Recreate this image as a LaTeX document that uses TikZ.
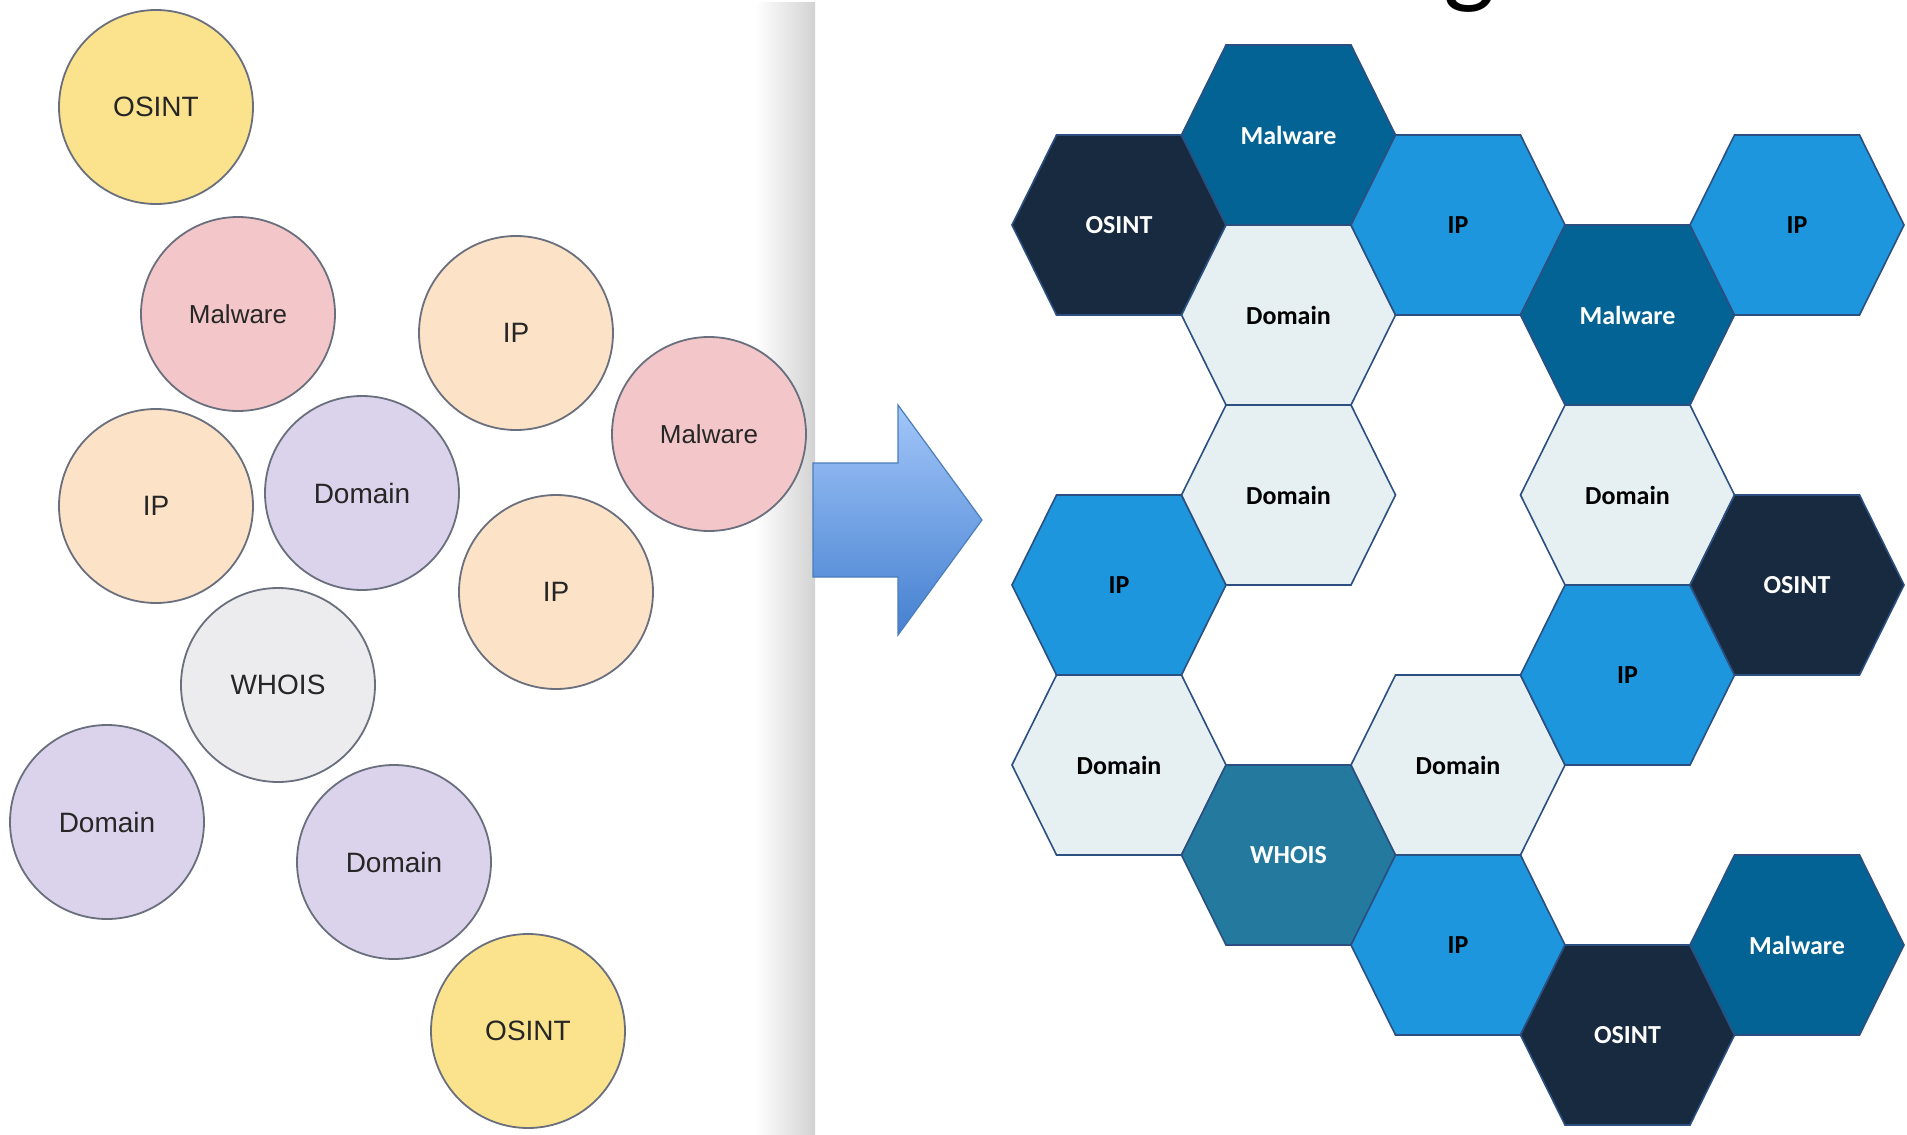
\documentclass[tikz,border=0pt]{standalone}
\usepackage{fontspec}
\setmainfont{Liberation Sans}
\newfontfamily\hexfont{Carlito}
\usetikzlibrary{calc}

% bubble palette
\definecolor{bubOsint}{HTML}{FBE38E}
\definecolor{bubMalware}{HTML}{F3C7C9}
\definecolor{bubIp}{HTML}{FCE2C6}
\definecolor{bubDomain}{HTML}{DBD3EB}
\definecolor{bubWhois}{HTML}{ECECEE}
\definecolor{bubLine}{HTML}{6A6F7E}
\definecolor{bubText}{HTML}{262626}
% honeycomb palette
\definecolor{hxOsint}{HTML}{172A3F}
\definecolor{hxMalware}{HTML}{036394}
\definecolor{hxIp}{HTML}{1E96DE}
\definecolor{hxDomain}{HTML}{E6EFF1}
\definecolor{hxWhois}{HTML}{237A9E}
\definecolor{hxLine}{HTML}{2B4F80}
% arrow and panel
\definecolor{arrTop}{HTML}{A2C6F9}
\definecolor{arrBot}{HTML}{4580D0}
\definecolor{arrLine}{HTML}{4A7EBB}
\definecolor{panelEdge}{HTML}{D2D2D2}

\tikzset{
  bubble/.style={circle, draw=bubLine, line width=1.8pt, minimum size=194pt,
    inner sep=0pt, text=bubText, font=\fontsize{28}{30}\selectfont},
  bubblesmall/.style={bubble, font=\fontsize{26}{28}\selectfont},
  hexedge/.style={draw=hxLine, line width=1.6pt, line join=miter},
  hexlabel/.style={inner sep=0pt, font=\hexfont\bfseries\fontsize{26}{28}\selectfont},
  bigarrow/.style={draw=arrLine, line width=1.2pt, top color=arrTop, bottom color=arrBot},
}

% one honeycomb cell: name, centre x, centre y, fill, text colour, label
\newcommand\hexcell[6]{%
  \path[hexedge, fill=#4] (#2-107,#3) -- (#2-62.5,#3-90) -- (#2+62.5,#3-90)
    -- (#2+107,#3) -- (#2+62.5,#3+90) -- (#2-62.5,#3+90) -- cycle;
  \node[hexlabel, text=#5] (#1) at (#2,#3) {#6};
}

\begin{document}
\begin{tikzpicture}[x=1pt, y=-1pt]
\useasboundingbox (0,0) rectangle (1907,1135);
\clip (0,0) rectangle (1907,1135);
\fill[white] (0,0) rectangle (1907,1135);

% shaded right edge of the left panel
\shade[left color=white, right color=panelEdge] (755,2) rectangle (815,1135);

% loose bubbles
\node[bubble, fill=bubOsint]       (b1)  at (156,107)  {OSINT};
\node[bubblesmall, fill=bubMalware](b2)  at (238,314)  {Malware};
\node[bubble, fill=bubIp]          (b3)  at (516,333)  {IP};
\node[bubblesmall, fill=bubMalware](b4)  at (709,434)  {Malware};
\node[bubble, fill=bubIp]          (b5)  at (156,506)  {IP};
\node[bubble, fill=bubDomain]      (b6)  at (362,493)  {Domain};
\node[bubble, fill=bubIp]          (b7)  at (556,592)  {IP};
\node[bubble, fill=bubWhois]       (b8)  at (278,685)  {WHOIS};
\node[bubble, fill=bubDomain]      (b9)  at (107,822)  {Domain};
\node[bubble, fill=bubDomain]      (b10) at (394,862)  {Domain};
\node[bubble, fill=bubOsint]       (b11) at (528,1031) {OSINT};

% block arrow
\path[bigarrow] (813,463) -- (898,463) -- (898,405) -- (982,520)
  -- (898,635) -- (898,577) -- (813,577) -- cycle;

% heading descender peeking in at the top
\node[anchor=south, inner sep=0pt, font=\hexfont\fontsize{110}{110}\selectfont] (head) at (1469,13) {g};

% honeycomb
\hexcell{h1}{1119}{225}{hxOsint}{white}{OSINT}
\hexcell{h2}{1119}{585}{hxIp}{black}{IP}
\hexcell{h3}{1119}{765}{hxDomain}{black}{Domain}
\hexcell{h4}{1288.5}{135}{hxMalware}{white}{Malware}
\hexcell{h5}{1288.5}{315}{hxDomain}{black}{Domain}
\hexcell{h6}{1288.5}{495}{hxDomain}{black}{Domain}
\hexcell{h7}{1288.5}{855}{hxWhois}{white}{WHOIS}
\hexcell{h8}{1458}{225}{hxIp}{black}{IP}
\hexcell{h9}{1458}{765}{hxDomain}{black}{Domain}
\hexcell{h10}{1458}{945}{hxIp}{black}{IP}
\hexcell{h11}{1627.5}{315}{hxMalware}{white}{Malware}
\hexcell{h12}{1627.5}{495}{hxDomain}{black}{Domain}
\hexcell{h13}{1627.5}{675}{hxIp}{black}{IP}
\hexcell{h14}{1627.5}{1035}{hxOsint}{white}{OSINT}
\hexcell{h15}{1797}{225}{hxIp}{black}{IP}
\hexcell{h16}{1797}{585}{hxOsint}{white}{OSINT}
\hexcell{h17}{1797}{945}{hxMalware}{white}{Malware}
\end{tikzpicture}
\end{document}
